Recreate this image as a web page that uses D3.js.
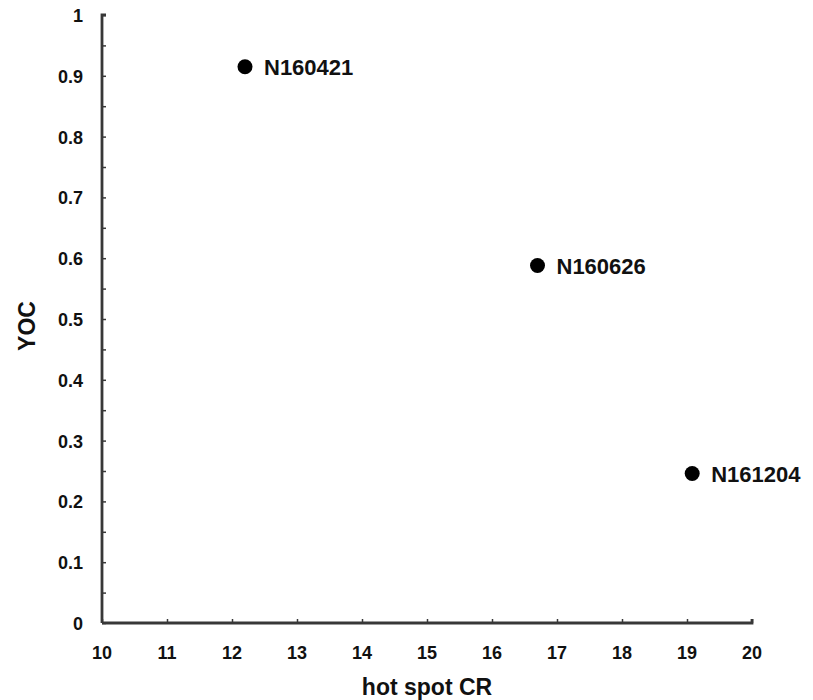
<!DOCTYPE html>
<html><head><meta charset="utf-8">
<script src="https://cdn.jsdelivr.net/npm/d3@7"></script>
<style>body{margin:0;background:#fff;}</style>
</head><body>
<svg id="c" width="813" height="700"></svg>
<script>
const names = ["N160421", "N160626", "N161204"];
const xVals = [12.2, 16.7, 19.08];
const yVals = [0.915, 0.588, 0.246];
const xTicks = [10,11,12,13,14,15,16,17,18,19,20];
const yTicks = [0,0.1,0.2,0.3,0.4,0.5,0.6,0.7,0.8,0.9,1];
const yMinor = d3.range(0, 1.0001, 0.05);

const svg = d3.select("#c");
const x = d3.scaleLinear().domain([10,20]).range([102,752]);
const y = d3.scaleLinear().domain([0,1]).range([623,15]);
const font = "Arial, 'Liberation Sans', sans-serif";
const axisCol = "#383838";

// y axis
const gy = svg.append("g").attr("transform","translate(102,0)")
  .call(d3.axisRight(y).tickValues(yMinor).tickSize(4).tickFormat(""));
gy.select(".domain").attr("stroke",axisCol).attr("stroke-width",2.8).attr("d","M4,15H0V623");
gy.selectAll(".tick line").attr("stroke",axisCol).attr("stroke-width",1.5);
svg.append("g").selectAll("text").data(yTicks).join("text")
  .attr("x",83).attr("y",d=>y(d)+7).attr("text-anchor","end")
  .attr("font-family",font).attr("font-weight","bold").attr("font-size",18).attr("fill","#111")
  .text(d=>d3.format("~g")(d));

// x axis
const gx = svg.append("g").attr("transform","translate(0,623)")
  .call(d3.axisTop(x).tickValues(xTicks).tickSize(4).tickFormat(""));
gx.select(".domain").attr("stroke",axisCol).attr("stroke-width",2.8).attr("d","M102,0H752V-4");
gx.selectAll(".tick line").attr("stroke",axisCol).attr("stroke-width",1.5);
svg.append("g").selectAll("text").data(xTicks).join("text")
  .attr("x",d=>x(d)).attr("y",659).attr("text-anchor","middle")
  .attr("font-family",font).attr("font-weight","bold").attr("font-size",18).attr("fill","#111")
  .text(d=>d);

// axis titles
svg.append("text").attr("x",427).attr("y",695).attr("text-anchor","middle")
  .attr("font-family",font).attr("font-weight","bold").attr("font-size",23).attr("fill","#111")
  .text("hot spot CR");
svg.append("text").attr("transform","translate(35,326) rotate(-90)").attr("text-anchor","middle")
  .attr("font-family",font).attr("font-weight","bold").attr("font-size",23).attr("fill","#111")
  .text("YOC");

// points
const data = names.map((n,i)=>({n, x:xVals[i], y:yVals[i]}));
svg.append("g").selectAll("circle").data(data).join("circle")
  .attr("cx",d=>x(d.x)).attr("cy",d=>y(d.y)).attr("r",7.5).attr("fill","#000");
svg.append("g").selectAll("text").data(data).join("text")
  .attr("x",d=>x(d.x)+19).attr("y",d=>y(d.y)+8.5)
  .attr("font-family",font).attr("font-weight","bold").attr("font-size",22).attr("fill","#111")
  .text(d=>d.n);
</script>
</body></html>
